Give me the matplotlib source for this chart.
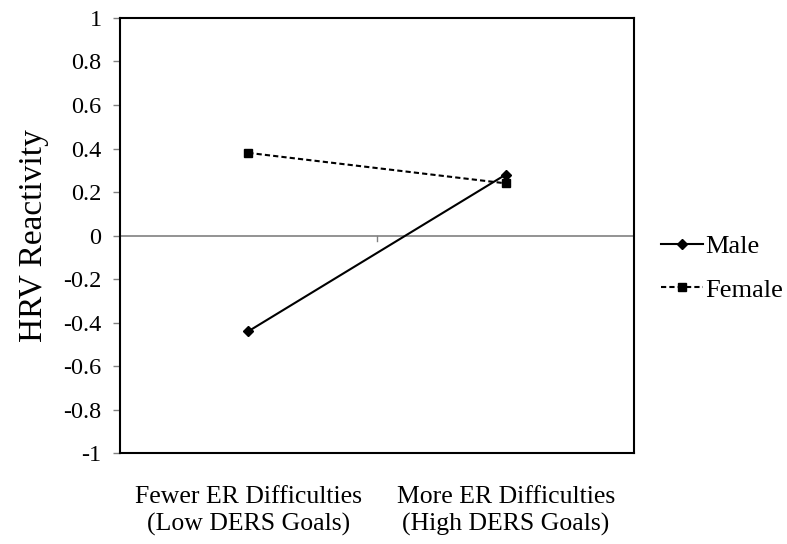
import numpy as np
import matplotlib
matplotlib.use('Agg')
import matplotlib.pyplot as plt

# data
categories = ['Fewer ER Difficulties\n(Low DERS Goals)',
              'More ER Difficulties\n(High DERS Goals)']
male = [-0.44, 0.28]
female = [0.38, 0.24]
y_ticks = [-1, -0.8, -0.6, -0.4, -0.2, 0, 0.2, 0.4, 0.6, 0.8, 1]
y_labels = ['-1', '-0.8', '-0.6', '-0.4', '-0.2', '0', '0.2', '0.4', '0.6', '0.8', '1']

plt.rcParams['font.family'] = ['Liberation Serif', 'DejaVu Serif']

fig = plt.figure(figsize=(7.87, 5.44), dpi=100)
ax = fig.add_axes([0.152, 0.167, 0.654, 0.80])

x = np.arange(1, len(categories) + 1)

# zero line with a single category divider tick
ax.axhline(0, color='#808080', lw=1.2, zorder=1)
ax.plot([1.5, 1.5], [0, -0.025], color='#808080', lw=1.0, zorder=1)

ax.plot(x, male, color='black', lw=1.5, marker='D', ms=5, label='Male', zorder=3)
ax.plot(x, female, color='black', lw=1.5, ls=(0, (2.5, 1.5)), marker='s', ms=6,
        label='Female', zorder=3)

ax.set_xlim(0.5, 2.5)
ax.set_ylim(-1, 1)
ax.set_yticks(y_ticks)
ax.set_yticklabels(y_labels, fontsize=17.5)
ax.set_xticks([])
ax.tick_params(axis='y', direction='out', length=5, width=1, color='#808080', pad=8)

for s in ax.spines.values():
    s.set_linewidth(1.5)
    s.set_color('black')

# category labels under the plot
for xi, lab in zip(x, categories):
    ax.text(xi, -1.15, lab, ha='center', va='top', fontsize=18.5,
            transform=ax.transData, linespacing=1.3)

ax.set_ylabel('HRV Reactivity', fontsize=24, labelpad=10)

leg = ax.legend(loc='center left', bbox_to_anchor=(1.0, 0.425), frameon=False,
                fontsize=19, handlelength=1.6, handletextpad=0.1,
                labelspacing=0.75, borderaxespad=0.6)

fig.savefig('out.png', dpi=100)
